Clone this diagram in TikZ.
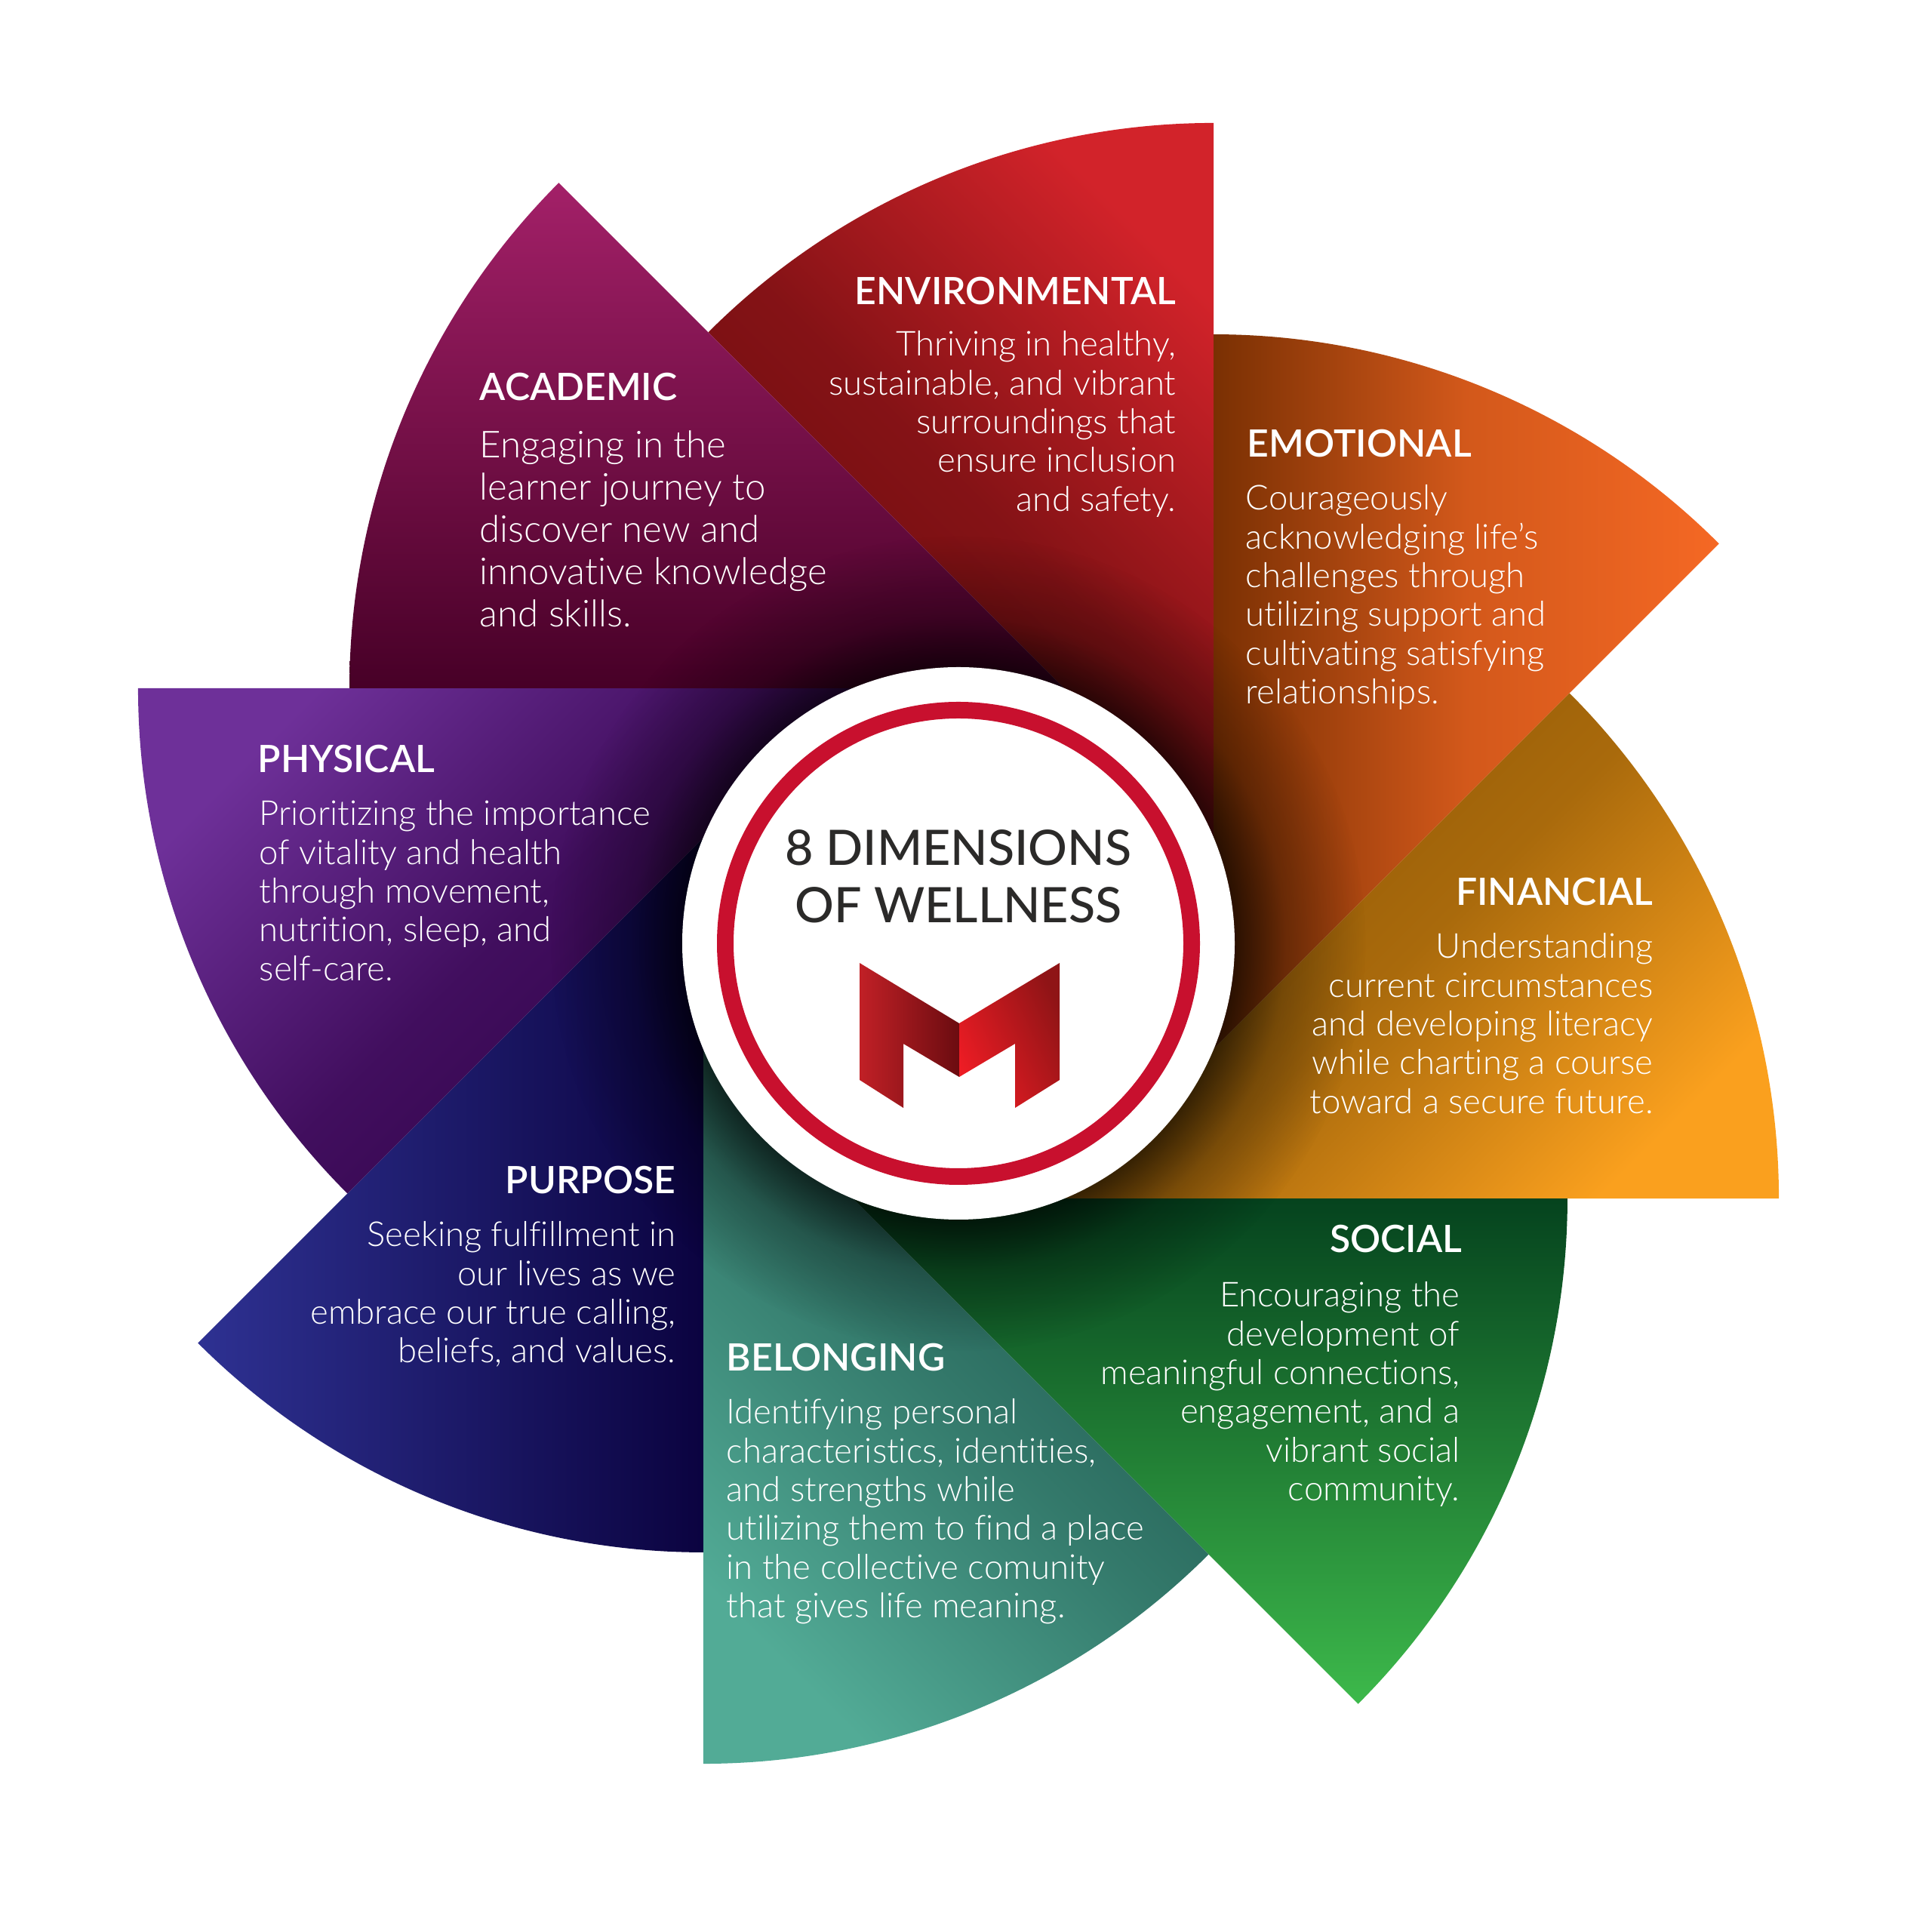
\documentclass[tikz,border=0pt]{standalone}
\usepackage{fontspec}
\setmainfont{Lato}
\newfontfamily\bodyfont{Lato Light}[Ligatures=NoCommon]
\newfontfamily\headfont{Lato Semibold}
\newfontfamily\titlefont{Lato Medium}
\usetikzlibrary{calc,fadings}

\definecolor{envbright}{HTML}{D2232A}
\definecolor{envdark}{HTML}{670C0E}
\definecolor{emobright}{HTML}{F56824}
\definecolor{emodark}{HTML}{7A3003}
\definecolor{finbright}{HTML}{FAA01E}
\definecolor{findark}{HTML}{8A5505}
\definecolor{socbright}{HTML}{3DB94B}
\definecolor{socdark}{HTML}{05431E}
\definecolor{belbright}{HTML}{52AB96}
\definecolor{beldark}{HTML}{1B5148}
\definecolor{purbright}{HTML}{2E3192}
\definecolor{purdark}{HTML}{0B0340}
\definecolor{phybright}{HTML}{6E3099}
\definecolor{phydark}{HTML}{2E0045}
\definecolor{acabright}{HTML}{A32068}
\definecolor{acadark}{HTML}{470027}
\definecolor{ringred}{HTML}{C8102E}
\definecolor{titlegray}{HTML}{2B2A29}
\definecolor{logoleft}{HTML}{C12026}
\definecolor{logodark}{HTML}{6B0C10}
\definecolor{logobright}{HTML}{ED1C24}
\definecolor{logoright}{HTML}{8F1416}

\pgfdeclareradialshading{ringshadow}{\pgfpointorigin}{color(0bp)=(pgftransparent!35); color(17bp)=(pgftransparent!35); color(20bp)=(pgftransparent!72); color(25bp)=(pgftransparent!100); color(50bp)=(pgftransparent!100)}
\pgfdeclarefading{ringfading}{\pgfuseshading{ringshadow}}

\tikzset{
  heading/.style={text=white, inner sep=0pt, font=\fontsize{14.2pt}{17pt}\selectfont\headfont},
  blurb/.style={text=white, inner sep=0pt, font=\fontsize{12.95pt}{14.6pt}\selectfont\bodyfont},
  bigblurb/.style={text=white, inner sep=0pt, font=\fontsize{14pt}{15.9pt}\selectfont\bodyfont},
}

% apex angle, bright colour, dark colour, share of bright at the middle
\newcommand{\petal}[4]{
  \shade[top color=#2, bottom color=#3, middle color=#2!#4!#3, shading angle=#1-67.5]
    ($(c)+(#1:3.66)$) -- ++(#1+67.5:9.47) arc[start angle=#1+67.5, delta angle=45, radius=9.47] -- cycle;
}

\begin{document}
\begin{tikzpicture}
  \useasboundingbox (0,0) rectangle (25.6,25.6);
  \coordinate (c) at (12.70,13.10);

  %Petals
  \petal{22.5}{envbright}{envdark}{28}
  \petal{-22.5}{emobright}{emodark}{72}
  \petal{-67.5}{finbright}{findark}{28}
  \petal{-112.5}{socbright}{socdark}{50}
  \petal{-157.5}{belbright}{beldark}{45}
  \petal{-202.5}{purbright}{purdark}{50}
  \petal{-247.5}{phybright}{phydark}{30}
  \petal{67.5}{acabright}{acadark}{50}

  %Shadow and centre
  \fill[black, path fading=ringfading] (c) circle (5.4);
  \node[circle, fill=white, minimum size=7.32cm, inner sep=0pt] (disc) at (c) {};
  \node[circle, draw=ringred, line width=2.2mm, minimum size=6.18cm, inner sep=0pt] (ring) at (c) {};
  \node[text=titlegray, inner sep=0pt, align=center, anchor=base, font=\fontsize{18.4pt}{21.8pt}\selectfont\titlefont] (title) at (12.70,13.37) {8 DIMENSIONS\\OF WELLNESS};

  %Logo
  \shade[left color=logoleft, right color=logodark, shading angle=90]
    (11.39,12.84) -- (12.71,12.04) -- (12.71,11.33) -- (11.97,11.77) -- (11.97,10.92) -- (11.39,11.29) -- cycle;
  \shade[left color=logobright, right color=logoright, shading angle=115]
    (12.71,12.04) -- (14.04,12.84) -- (14.04,11.29) -- (13.45,10.92) -- (13.45,11.77) -- (12.71,11.33) -- cycle;

  %Environmental
  \node[heading, anchor=base east] (envhead) at (15.59,21.56) {ENVIRONMENTAL};
  \node[blurb, anchor=north east, align=right] (envtext) at (15.59,21.22) {Thriving in healthy,\\sustainable, and vibrant\\surroundings that\\ensure inclusion\\and safety.};

  %Emotional
  \node[heading, anchor=base west] (emohead) at (16.52,19.54) {EMOTIONAL};
  \node[blurb, anchor=north west, align=left] (emotext) at (16.50,19.18) {Courageously\\acknowledging life’s\\challenges through\\utilizing support and\\cultivating satisfying\\relationships.};

  %Financial
  \node[heading, anchor=base east] (finhead) at (21.91,13.60) {FINANCIAL};
  \node[blurb, anchor=north east, align=right] (fintext) at (21.91,13.24) {Understanding\\current circumstances\\and developing literacy\\while charting a course\\toward a secure future.};

  %Social
  \node[heading, anchor=base east] (sochead) at (19.38,9.00) {SOCIAL};
  \node[blurb, anchor=north east, align=right] (soctext) at (19.35,8.62) {Encouraging the\\development of\\meaningful connections,\\engagement, and a\\vibrant social\\community.};

  %Belonging
  \node[heading, anchor=base west] (belhead) at (9.62,7.43) {BELONGING};
  \node[blurb, anchor=north west, align=left] (beltext) at (9.62,7.07) {Identifying personal\\characteristics, identities,\\and strengths while\\utilizing them to find a place\\in the collective comunity\\that gives life meaning.};

  %Purpose
  \node[heading, anchor=base east] (purhead) at (8.96,9.78) {PURPOSE};
  \node[blurb, anchor=north east, align=right] (purtext) at (8.96,9.42) {Seeking fulfillment in\\our lives as we\\embrace our true calling,\\beliefs, and values.};

  %Physical
  \node[heading, anchor=base west] (phyhead) at (3.41,15.36) {PHYSICAL};
  \node[blurb, anchor=north west, align=left] (phytext) at (3.43,15.00) {Prioritizing the importance\\of vitality and health\\through movement,\\nutrition, sleep, and\\self-care.};

  %Academic
  \node[heading, anchor=base west] (acahead) at (6.35,20.29) {ACADEMIC};
  \node[bigblurb, anchor=north west, align=left] (acatext) at (6.35,19.90) {Engaging in the\\learner journey to\\discover new and\\innovative knowledge\\and skills.};
\end{tikzpicture}
\end{document}
